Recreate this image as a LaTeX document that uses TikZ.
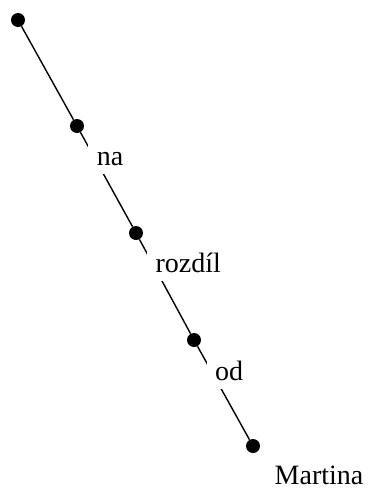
\documentclass[tikz,border=0pt]{standalone}
\usepackage{fontspec}
\setmainfont{Liberation Serif}
\begin{document}
\begin{tikzpicture}[x=1pt,y=-1pt,
  dot/.style={circle,fill=black,inner sep=0pt,minimum size=14pt},
  lbl/.style={fill=white,inner sep=8.5pt,anchor=base,font=\fontsize{28}{32}\selectfont},
  edge/.style={line width=1.4pt}]
\useasboundingbox (0,0) rectangle (368,488);
\node[dot] (d1) at (18,20) {};
\node[dot] (d2) at (77,126) {};
\node[dot] (d3) at (136,233) {};
\node[dot] (d4) at (194,340) {};
\node[dot] (d5) at (253,446) {};
\draw[edge] (d1) -- (d2);
\draw[edge] (d2) -- (d3);
\draw[edge] (d3) -- (d4);
\draw[edge] (d4) -- (d5);
\node[lbl] (l1) at (110,165.7) {na};
\node[lbl] (l2) at (188.3,272.3) {rozdíl};
\node[lbl] (l3) at (229,380) {od};
\node[lbl,inner sep=2pt] (l4) at (319,484) {Martina};
\end{tikzpicture}
\end{document}
